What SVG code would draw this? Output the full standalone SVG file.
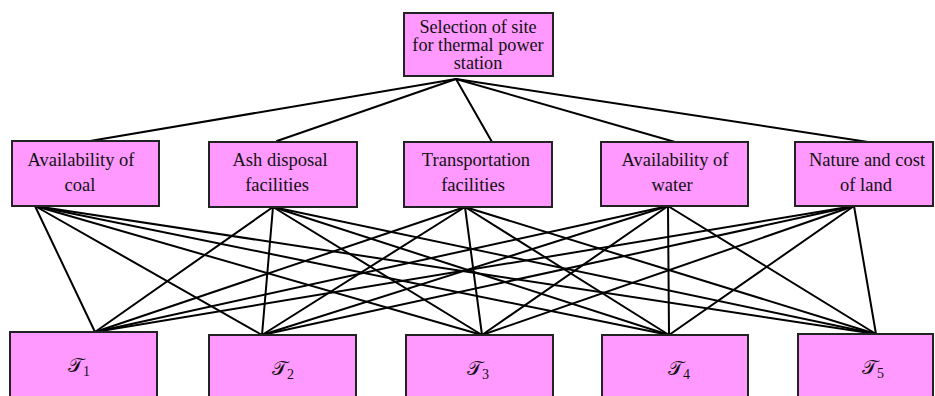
<svg xmlns="http://www.w3.org/2000/svg" width="935" height="396" viewBox="0 0 935 396">
  <style>
    .box { fill: #ff99ff; stroke: #222; stroke-width: 2; }
    .lbl { font-family: "Liberation Serif", "Times New Roman", serif; font-size: 18.5px; fill: #111; text-anchor: middle; }
    .goal-lbl { font-size: 18.2px; }
    .sym { font-family: "DejaVu Serif", "Liberation Serif", serif; font-size: 20px; fill: #111; }
    .sub { font-family: "Liberation Serif", serif; font-size: 14px; }
    #connectors line { stroke: #000; stroke-width: 2; stroke-linecap: round; }
  </style>
  <rect width="935" height="396" fill="#fff"/>

  <!-- connectors: goal to criteria, criteria to alternatives -->
  <g id="connectors">
    <line x1="456" y1="79" x2="90" y2="141"/>
    <line x1="456" y1="79" x2="277" y2="141"/>
    <line x1="456" y1="79" x2="492" y2="142"/>
    <line x1="456" y1="79" x2="675" y2="142"/>
    <line x1="456" y1="79" x2="868" y2="142"/>

    <line x1="35" y1="206" x2="95" y2="332"/>
    <line x1="35" y1="206" x2="262" y2="335"/>
    <line x1="35" y1="206" x2="482" y2="335"/>
    <line x1="35" y1="206" x2="669" y2="335"/>
    <line x1="35" y1="206" x2="876" y2="334"/>

    <line x1="273" y1="207" x2="95" y2="332"/>
    <line x1="273" y1="207" x2="262" y2="335"/>
    <line x1="273" y1="207" x2="482" y2="335"/>
    <line x1="273" y1="207" x2="669" y2="335"/>
    <line x1="273" y1="207" x2="876" y2="334"/>

    <line x1="465" y1="207" x2="95" y2="332"/>
    <line x1="465" y1="207" x2="262" y2="335"/>
    <line x1="465" y1="207" x2="482" y2="335"/>
    <line x1="465" y1="207" x2="669" y2="335"/>
    <line x1="465" y1="207" x2="876" y2="334"/>

    <line x1="668" y1="206" x2="95" y2="332"/>
    <line x1="668" y1="206" x2="262" y2="335"/>
    <line x1="668" y1="206" x2="482" y2="335"/>
    <line x1="668" y1="206" x2="669" y2="335"/>
    <line x1="668" y1="206" x2="876" y2="334"/>

    <line x1="854" y1="206" x2="95" y2="332"/>
    <line x1="854" y1="206" x2="262" y2="335"/>
    <line x1="854" y1="206" x2="482" y2="335"/>
    <line x1="854" y1="206" x2="669" y2="335"/>
    <line x1="854" y1="206" x2="876" y2="334"/>
  </g>

  <!-- goal -->
  <g id="goal">
    <rect class="box" x="404" y="13" width="149" height="63"/>
    <text class="lbl goal-lbl" x="478" y="32.5">Selection of site</text>
    <text class="lbl goal-lbl" x="478" y="50.5">for thermal power</text>
    <text class="lbl goal-lbl" x="478" y="68.5">station</text>
  </g>

  <!-- criteria -->
  <g id="coal">
    <rect class="box" x="12" y="141" width="147" height="65"/>
    <text class="lbl" x="81" y="166">Availability of</text>
    <text class="lbl" x="80" y="191">coal</text>
  </g>
  <g id="ash">
    <rect class="box" x="209" y="142" width="148" height="65"/>
    <text class="lbl" x="280" y="166">Ash disposal</text>
    <text class="lbl" x="277" y="191">facilities</text>
  </g>
  <g id="transport">
    <rect class="box" x="404" y="142" width="148" height="65"/>
    <text class="lbl" x="476" y="166">Transportation</text>
    <text class="lbl" x="473" y="191">facilities</text>
  </g>
  <g id="water">
    <rect class="box" x="601" y="142" width="147" height="64"/>
    <text class="lbl" x="675" y="166">Availability of</text>
    <text class="lbl" x="672" y="191">water</text>
  </g>
  <g id="land">
    <rect class="box" x="795" y="142" width="138" height="64"/>
    <text class="lbl" x="867" y="166">Nature and cost</text>
    <text class="lbl" x="866" y="191">of land</text>
  </g>

  <!-- alternatives -->
  <g id="t1">
    <rect class="box" x="10" y="332" width="147" height="80"/>
    <text class="sym" x="68" y="372">𝒯<tspan class="sub" dy="4">1</tspan></text>
  </g>
  <g id="t2">
    <rect class="box" x="209" y="335" width="147" height="80"/>
    <text class="sym" x="272" y="375">𝒯<tspan class="sub" dy="4">2</tspan></text>
  </g>
  <g id="t3">
    <rect class="box" x="406" y="335" width="147" height="80"/>
    <text class="sym" x="467" y="375">𝒯<tspan class="sub" dy="4">3</tspan></text>
  </g>
  <g id="t4">
    <rect class="box" x="602" y="335" width="146" height="80"/>
    <text class="sym" x="668" y="375">𝒯<tspan class="sub" dy="4">4</tspan></text>
  </g>
  <g id="t5">
    <rect class="box" x="798" y="334" width="135" height="80"/>
    <text class="sym" x="862" y="374">𝒯<tspan class="sub" dy="4">5</tspan></text>
  </g>
</svg>
